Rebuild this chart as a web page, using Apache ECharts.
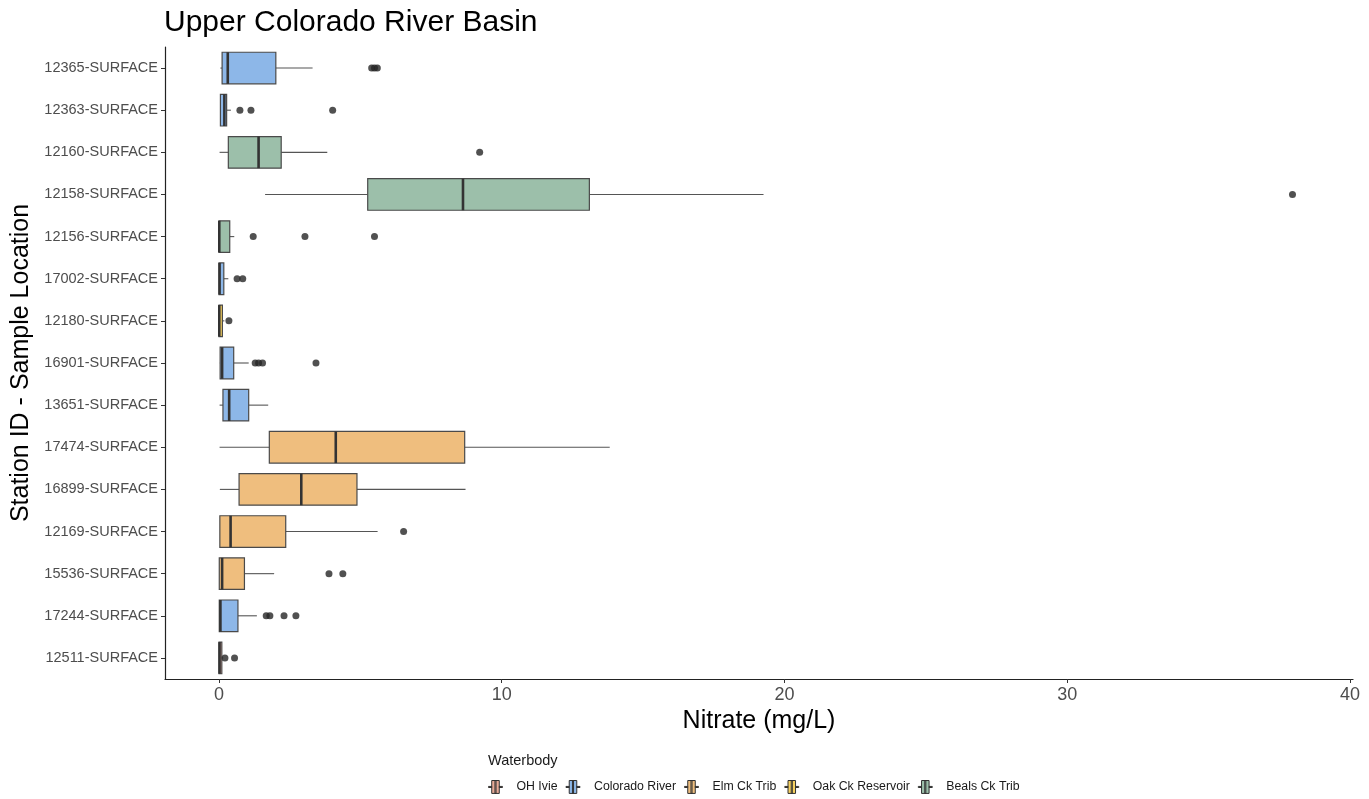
<!DOCTYPE html>
<html>
<head>
<meta charset="utf-8">
<script src="https://cdn.jsdelivr.net/npm/echarts@6/dist/echarts.min.js"></script>
<style>
html,body{margin:0;padding:0;background:#fff;}
#chart{width:1369px;height:799px;}
</style>
</head>
<body>
<div id="chart"></div>
<script>
// ---- data ----
const stations = ["12365-SURFACE","12363-SURFACE","12160-SURFACE","12158-SURFACE","12156-SURFACE","17002-SURFACE","12180-SURFACE","16901-SURFACE","13651-SURFACE","17474-SURFACE","16899-SURFACE","12169-SURFACE","15536-SURFACE","17244-SURFACE","12511-SURFACE"];
const waterbody = ["Colorado River","Colorado River","Beals Ck Trib","Beals Ck Trib","Beals Ck Trib","Colorado River","Oak Ck Reservoir","Colorado River","Colorado River","Elm Ck Trib","Elm Ck Trib","Elm Ck Trib","Elm Ck Trib","Colorado River","OH Ivie"];
const lowWhisker = [0.05, 0.05, 0.02, 1.63, 0.00, 0.00, 0.00, 0.03, 0.02, 0.02, 0.03, 0.03, 0.01, 0.01, 0.00];
const q1 =         [0.11, 0.05, 0.33, 5.26, 0.00, 0.00, 0.00, 0.04, 0.14, 1.78, 0.71, 0.03, 0.01, 0.01, 0.00];
const median =     [0.31, 0.19, 1.40, 8.63, 0.01, 0.02, 0.01, 0.11, 0.36, 4.13, 2.91, 0.41, 0.11, 0.05, 0.02];
const q3 =         [2.01, 0.27, 2.20, 13.10, 0.38, 0.17, 0.12, 0.52, 1.05, 8.69, 4.88, 2.36, 0.90, 0.67, 0.10];
const highWhisker =[3.31, 0.42, 3.83, 19.26, 0.54, 0.33, 0.19, 1.05, 1.74, 13.82, 8.72, 5.61, 1.95, 1.34, 0.15];
const outliers = [
  [5.40, "12365-SURFACE"], [5.50, "12365-SURFACE"], [5.60, "12365-SURFACE"],
  [0.74, "12363-SURFACE"], [1.13, "12363-SURFACE"], [4.02, "12363-SURFACE"],
  [9.22, "12160-SURFACE"],
  [37.97, "12158-SURFACE"],
  [1.21, "12156-SURFACE"], [3.04, "12156-SURFACE"], [5.50, "12156-SURFACE"],
  [0.64, "17002-SURFACE"], [0.84, "17002-SURFACE"],
  [0.35, "12180-SURFACE"],
  [1.28, "16901-SURFACE"], [1.40, "16901-SURFACE"], [1.54, "16901-SURFACE"], [3.43, "16901-SURFACE"],
  [6.53, "12169-SURFACE"],
  [3.89, "15536-SURFACE"], [4.38, "15536-SURFACE"],
  [1.67, "17244-SURFACE"], [1.80, "17244-SURFACE"], [2.30, "17244-SURFACE"], [2.72, "17244-SURFACE"],
  [0.21, "12511-SURFACE"], [0.55, "12511-SURFACE"]
];
const waterbodies = ["OH Ivie","Colorado River","Elm Ck Trib","Oak Ck Reservoir","Beals Ck Trib"];
const waterbodyColors = ["#E8AA97","#8DB7E8","#EFBE7E","#F6D160","#9CBFAA"];
const xTicks = [0, 10, 20, 30, 40];

// ---- chart ----
const FONT = "Liberation Sans, Arial, sans-serif";

function renderBox(params, api) {
  const cat = api.value(0);
  const xs = [1,2,3,4,5].map(i => api.coord([api.value(i), cat])[0]);
  const cy = api.coord([0, cat])[1];
  const h = api.size([0, 1])[1] * 0.75;
  const color = api.visual('color');
  return {
    type: 'group',
    children: [
      {type:'line', shape:{x1:xs[0], y1:cy, x2:xs[1], y2:cy}, style:{stroke:'#555', lineWidth:1.1}},
      {type:'line', shape:{x1:xs[3], y1:cy, x2:xs[4], y2:cy}, style:{stroke:'#555', lineWidth:1.1}},
      {type:'rect', shape:{x:xs[1], y:cy-h/2, width:Math.max(xs[3]-xs[1], 0.5), height:h},
        style:{fill:color, stroke:'#4a4a4a', lineWidth:1.2}},
      {type:'line', shape:{x1:xs[2], y1:cy-h/2, x2:xs[2], y2:cy+h/2}, style:{stroke:'#333', lineWidth:2.6}}
    ]
  };
}

const iconPath = 'path://M0,6L3,6L3,7L0,7Z M3,0.5L10,0.5L10,12.5L3,12.5Z M6,0.5L7,0.5L7,12.5L6,12.5Z M10,6L13,6L13,7L10,7Z';

const series = waterbodies.map((wb, k) => ({
  name: wb,
  type: 'custom',
  renderItem: renderBox,
  itemStyle: {color: waterbodyColors[k]},
  encode: {y: 0, x: [1,2,3,4,5]},
  data: stations.map((s, i) => waterbody[i] === wb ? [s, lowWhisker[i], q1[i], median[i], q3[i], highWhisker[i]] : null).filter(d => d),
  z: 2
}));
series.push({
  name: 'outliers',
  type: 'scatter',
  symbol: 'circle',
  symbolSize: 7,
  itemStyle: {color: '#262626'},
  data: outliers,
  z: 3
});

const chart = echarts.init(document.getElementById('chart'), null, {renderer: 'canvas'});
chart.setOption({
  animation: false,
  backgroundColor: '#fff',
  title: {
    text: 'Upper Colorado River Basin',
    left: 164, top: 8, padding: 0,
    textStyle: {fontFamily: FONT, fontSize: 30, fontWeight: 'normal', color: '#000'}
  },
  graphic: [{
    type: 'text', left: 488, top: 753,
    style: {text: 'Waterbody', fontFamily: FONT, fontSize: 14.5, fill: '#1a1a1a'}
  }],
  legend: {
    data: waterbodies.map(w => ({name: w, icon: iconPath})),
    left: 488, top: 780, padding: 0,
    itemWidth: 14, itemHeight: 13, itemGap: 8,
    symbolKeepAspect: true,
    itemStyle: {borderColor: '#333', borderWidth: 1},
    textStyle: {fontFamily: FONT, fontSize: 12.3, color: '#1a1a1a', padding: [0, 0, 0, 9]},
    selectedMode: false
  },
  grid: {left: 165, right: 16, top: 47, bottom: 120, containLabel: false},
  xAxis: {
    type: 'value',
    min: -1.91, max: 40.11,
    name: 'Nitrate (mg/L)',
    nameLocation: 'middle', nameGap: 23,
    nameTextStyle: {fontFamily: FONT, fontSize: 25, color: '#000'},
    axisLine: {show: true, onZero: false, lineStyle: {color: '#222', width: 1.2}},
    axisTick: {show: true, length: 4, customValues: xTicks, lineStyle: {color: '#333'}},
    axisLabel: {customValues: xTicks, fontFamily: FONT, fontSize: 18, color: '#4d4d4d', margin: 7},
    splitLine: {show: false}
  },
  yAxis: {
    type: 'category',
    data: stations,
    inverse: true,
    name: 'Station ID - Sample Location',
    nameLocation: 'middle', nameGap: 121,
    nameTextStyle: {fontFamily: FONT, fontSize: 25, color: '#000'},
    axisLine: {show: true, onZero: false, lineStyle: {color: '#222', width: 1.2}},
    axisTick: {show: true, length: 4, alignWithLabel: true, lineStyle: {color: '#333'}},
    axisLabel: {fontFamily: FONT, fontSize: 14.5, color: '#4d4d4d', margin: 7},
    splitLine: {show: false}
  },
  series: series
});
</script>
</body>
</html>
